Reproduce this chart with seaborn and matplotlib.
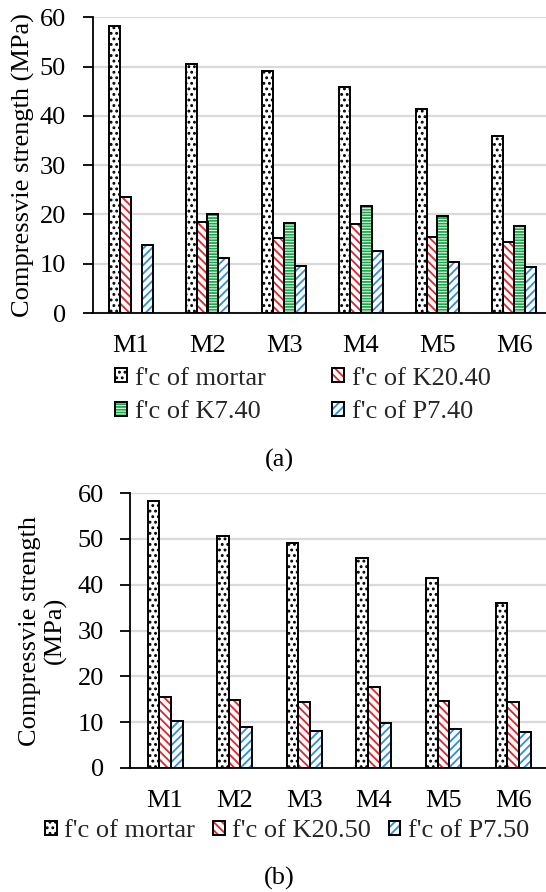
import numpy as np
import pandas as pd
import matplotlib
matplotlib.use("Agg")
import matplotlib.pyplot as plt
import seaborn as sns
from matplotlib.patches import Patch, Rectangle
from matplotlib.legend_handler import HandlerTuple

# ---------------- data ----------------
mixes = ["M1", "M2", "M3", "M4", "M5", "M6"]

mortar = [58.2, 50.6, 49.2, 45.8, 41.4, 35.9]
k20_40 = [23.5, 18.5, 15.3, 18.0, 15.5, 14.4]
k7_40 = [np.nan, 20.1, 18.3, 21.8, 19.7, 17.6]
p7_40 = [13.8, 11.2, 9.6, 12.6, 10.4, 9.4]

k20_50 = [15.6, 14.8, 14.5, 17.7, 14.7, 14.5]
p7_50 = [10.3, 8.9, 8.0, 9.8, 8.6, 7.9]

labels_a = ["f'c of mortar", "f'c of K20.40", "f'c of K7.40", "f'c of P7.40"]
labels_b = ["f'c of mortar", "f'c of K20.50", "f'c of P7.50"]
y_ticks = [0, 10, 20, 30, 40, 50, 60]

# ---------------- style ----------------
sns.set_theme(style="white")
plt.rcParams["font.family"] = ["Liberation Serif", "DejaVu Serif"]
plt.rcParams["hatch.linewidth"] = 1.3
FS = 19

styles = {
    "mortar": ("...", "black"),
    "K20": ("\\\\\\\\", "#e3232c"),
    "K7": ("------", "#1ba84b"),
    "P7": ("////", "#2b8ee0"),
}
style_a = [styles["mortar"], styles["K20"], styles["K7"], styles["P7"]]
style_b = [styles["mortar"], styles["K20"], styles["P7"]]

W, H = 546, 892
fig = plt.figure(figsize=(W / 100, H / 100), dpi=100)


def px_axes(left, right, top, bottom):
    return fig.add_axes([left / W, 1 - bottom / H, (right - left) / W, (bottom - top) / H])


def draw(ax, series, labels, sty, width):
    df = pd.DataFrame(
        {
            "mix": np.tile(mixes, len(series)),
            "series": np.repeat(labels, len(mixes)),
            "value": np.concatenate([np.asarray(s, dtype=float) for s in series]),
        }
    )
    sns.barplot(
        data=df, x="mix", y="value", hue="series", order=mixes, hue_order=labels,
        palette=["white"] * len(labels), saturation=1, errorbar=None,
        width=width, legend=False, ax=ax,
    )
    for cont, (hatch, col) in zip(ax.containers, sty):
        for bar in cont:
            bar.set_facecolor("white")
            bar.set_edgecolor(col)
            bar.set_hatch(hatch)
            bar.set_linewidth(0)
            ax.add_patch(Rectangle(bar.get_xy(), bar.get_width(), bar.get_height(),
                                   fill=False, edgecolor="black", linewidth=1.4,
                                   zorder=bar.get_zorder() + 0.1))
    ax.set_ylim(0, 60)
    ax.set_yticks(y_ticks)
    ax.set_xlim(-0.5, len(mixes) - 0.5)
    ax.yaxis.grid(True, color="#d9d9d9", linewidth=1.6)
    ax.set_axisbelow(True)
    for s in ["top", "right"]:
        ax.spines[s].set_visible(False)
    for s in ["left", "bottom"]:
        ax.spines[s].set_color("black")
        ax.spines[s].set_linewidth(1.3)
    ax.tick_params(axis="y", which="both", left=True, length=7, width=1.3,
                   color="black", labelsize=FS, pad=12, direction="out")
    ax.tick_params(axis="x", length=0, labelsize=FS, pad=15.5)
    ax.set_xlabel("")
    for t in ax.get_xticklabels() + ax.get_yticklabels():
        t.set_color("black")


def handles(sty):
    hs = []
    for hatch, col in sty:
        p1 = Patch(facecolor="white", edgecolor=col, hatch=hatch, linewidth=0)
        p2 = Patch(facecolor="none", edgecolor="black", linewidth=1.4)
        hs.append((p1, p2))
    return hs


HM = {tuple: HandlerTuple(ndivide=1, pad=0)}

# ---------------- chart (a) ----------------
ax1 = px_axes(92.5, 552.5, 17.3, 313)
draw(ax1, [mortar, k20_40, k7_40, p7_40], labels_a, style_a, 0.57)
ax1.set_ylabel("Compressvie strength (MPa)", fontsize=FS, color="black", va="center")
ax1.yaxis.set_label_coords((23 - 92.5) / 460, 0.5)

h_a = handles(style_a)
order = [0, 2, 1, 3]  # row-wise fill: mortar, K20 / K7, P7
fig.legend([h_a[i] for i in order], [labels_a[i] for i in order], ncol=2,
           loc="center left", bbox_to_anchor=(97 / W, 1 - 395.5 / H), frameon=False,
           fontsize=FS, handler_map=HM,
           handlelength=0.45, handleheight=0.45, handletextpad=0.3,
           columnspacing=2.5, labelspacing=0.45, borderpad=0.2)
fig.text(279 / W, 1 - 460.5 / H, "(a)", ha="center", va="center", fontsize=FS, color="black")

# ---------------- chart (b) ----------------
ax2 = px_axes(130.2, 548, 493, 768)
draw(ax2, [mortar, k20_50, p7_50], labels_b, style_b, 0.503)
ax2.set_ylabel("Compressvie strength\n(MPa)", fontsize=FS, color="black",
               linespacing=1.15, va="center")
ax2.yaxis.set_label_coords((43 - 130.2) / 417.8, 0.5)

fig.legend(handles(style_b), labels_b, ncol=3, loc="center left",
           bbox_to_anchor=(27 / W, 1 - 831 / H), frameon=False,
           fontsize=FS, handler_map=HM,
           handlelength=0.45, handleheight=0.45, handletextpad=0.27,
           columnspacing=0.67, borderpad=0.2)
fig.text(279 / W, 1 - 878 / H, "(b)", ha="center", va="center", fontsize=FS, color="black")

fig.savefig("out.png", dpi=100, facecolor="white")
